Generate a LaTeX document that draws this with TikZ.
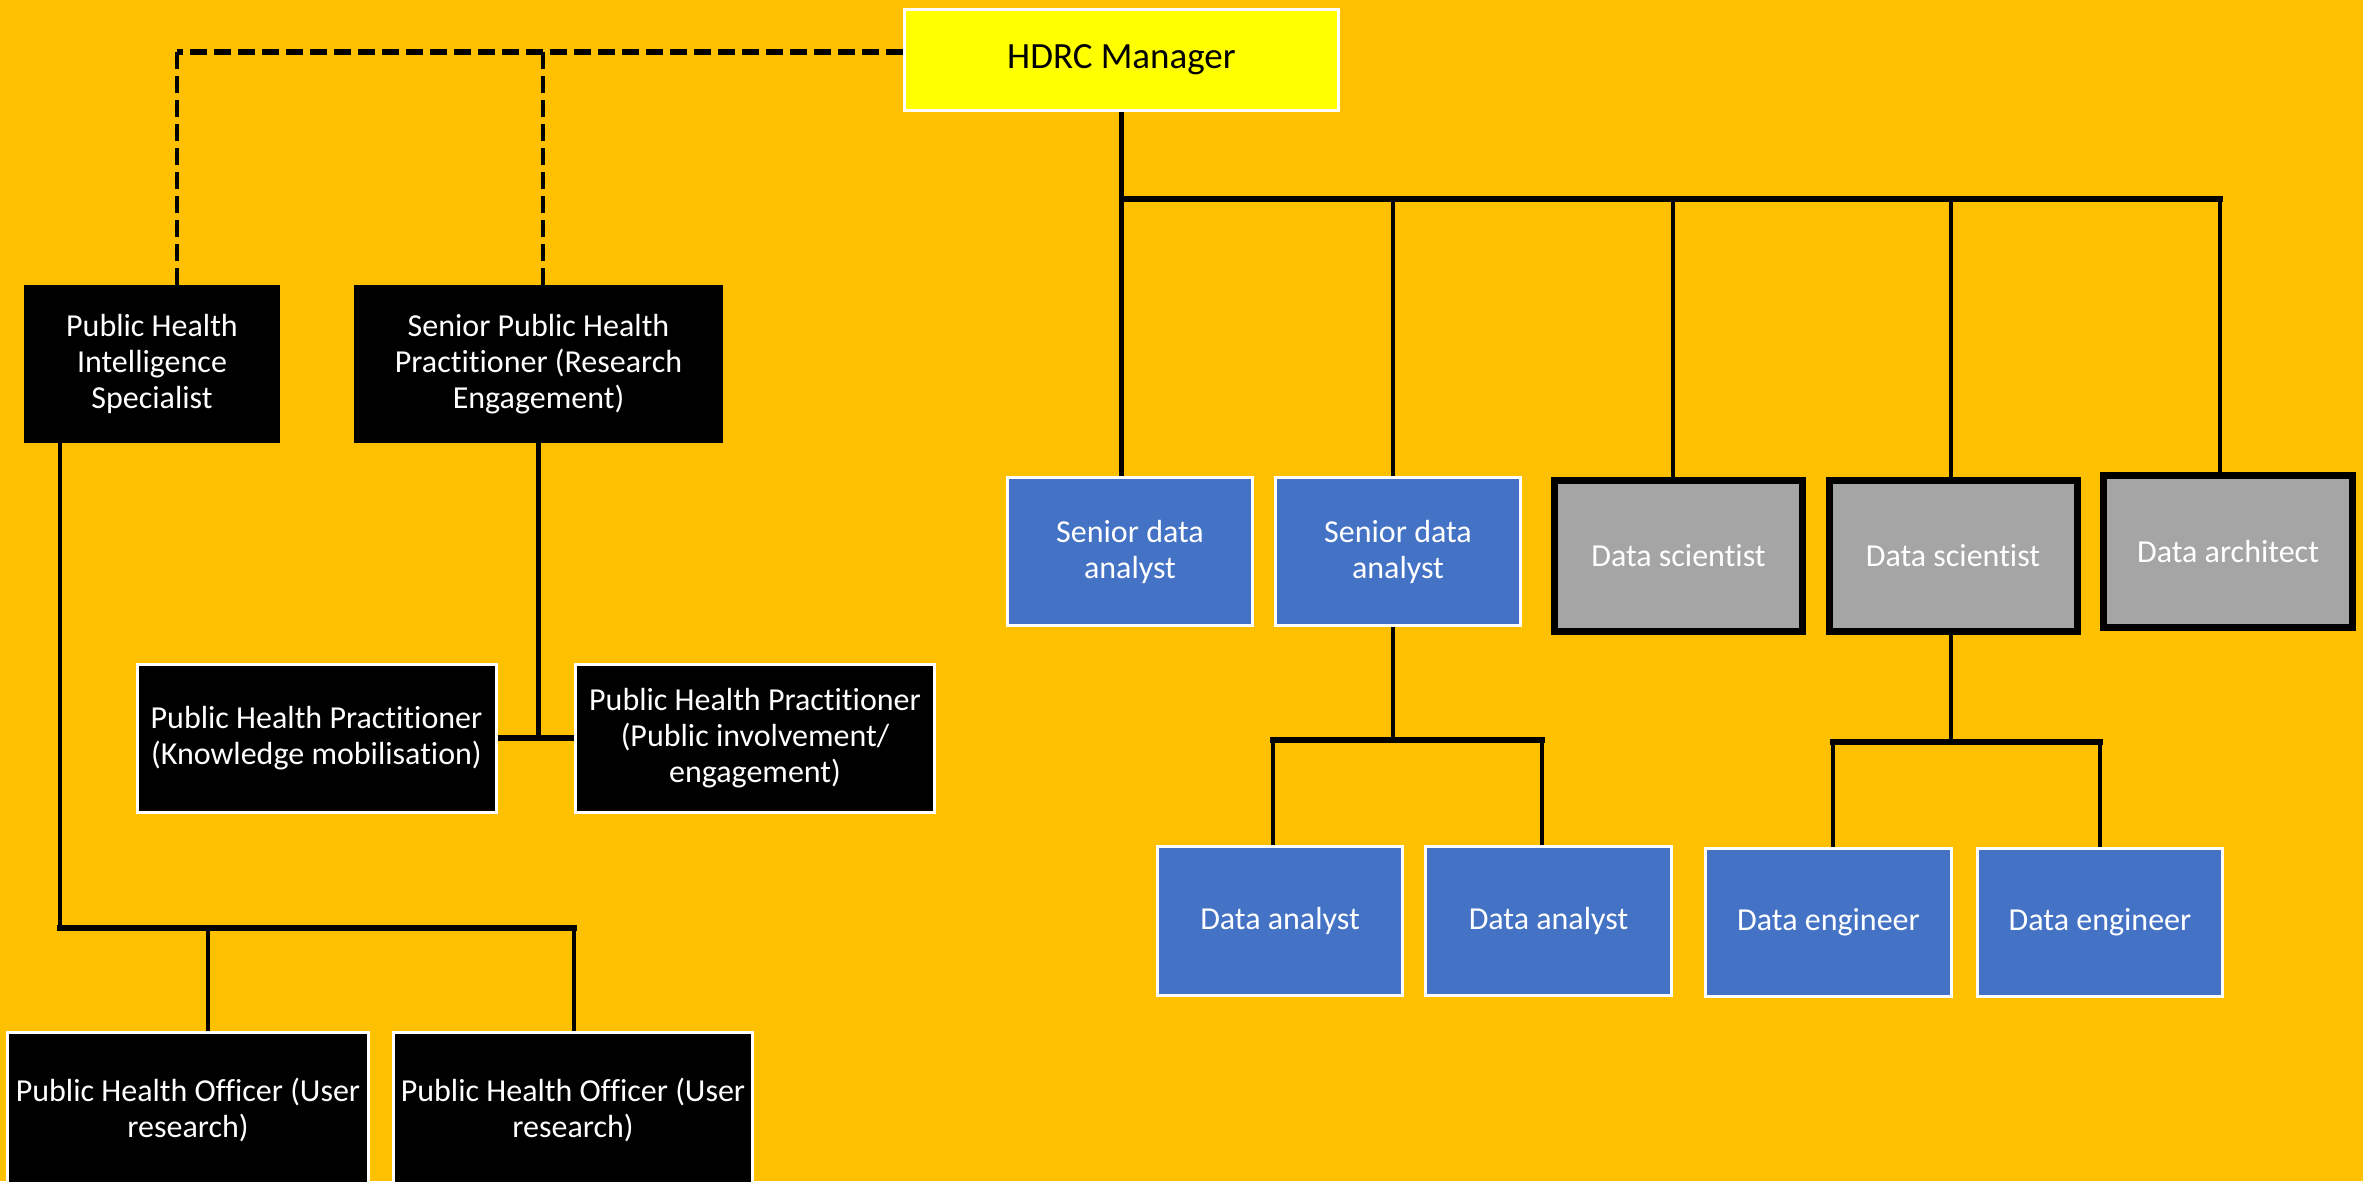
\documentclass[tikz,border=0pt]{standalone}
\usepackage{fontspec}
\setmainfont{Carlito}[Ligatures={NoCommon}]
\definecolor{bgc}{HTML}{FFC000}
\definecolor{bluec}{HTML}{4472C4}
\definecolor{grayc}{HTML}{A5A5A5}
\definecolor{yelc}{HTML}{FFFF00}
\pgfdeclarelayer{back}
\pgfdeclarelayer{lines}
\pgfsetlayers{back,lines,main}
\begin{document}
\begin{tikzpicture}[x=1pt,y=-1pt,
  box/.style={rectangle, inner sep=0pt, align=center, text=white,
    font=\fontsize{32}{36}\selectfont},
  blkbox/.style={box, fill=black},
  blkw/.style={box, fill=black, draw=white, line width=3pt},
  blubox/.style={box, fill=bluec, draw=white, line width=3pt},
  grybox/.style={box, fill=grayc, draw=black, line width=7pt},
  yelbox/.style={box, fill=yelc, draw=white, line width=3pt, text=black,
    font=\fontsize{37}{44}\selectfont},
  conn/.style={line width=4.5pt, line cap=rect},
  busconn/.style={line width=6pt, line cap=rect},
  dashconn/.style={line width=4.5pt, dash pattern=on 17pt off 7pt}
]
\useasboundingbox (0,0) rectangle (2363,1181);
\clip (0,0) rectangle (2363,1181);
\begin{pgfonlayer}{back}
\fill[bgc] (0,0) rectangle (2363,1181);
\end{pgfonlayer}

% nodes
\node[yelbox, minimum width=434pt, minimum height=101pt] (hdrc) at (1121.5,60) {HDRC Manager};
\node[blkbox, minimum width=256pt, minimum height=158pt] (phis) at (152,364) {Public Health\\Intelligence\\Specialist};
\node[blkbox, minimum width=369pt, minimum height=158pt] (sphp) at (538.5,364) {Senior Public Health\\Practitioner (Research\\Engagement)};
\node[blkw, minimum width=359pt, minimum height=148pt] (php1) at (316.5,738) {Public Health Practitioner\\(Knowledge mobilisation)};
\node[blkw, minimum width=359pt, minimum height=148pt] (php2) at (755,738) {Public Health Practitioner\\(Public involvement/\\engagement)};
\node[blkw, minimum width=361pt, minimum height=156pt] (pho1) at (188,1110.5) {Public Health Officer (User\\research)};
\node[blkw, minimum width=359pt, minimum height=156pt] (pho2) at (573,1110.5) {Public Health Officer (User\\research)};

\node[blubox, minimum width=245pt, minimum height=148pt] (sda1) at (1130,551.5) {Senior data\\analyst};
\node[blubox, minimum width=245pt, minimum height=148pt] (sda2) at (1398,551.5) {Senior data\\analyst};
\node[grybox, minimum width=248pt, minimum height=151pt] (ds1) at (1678.5,556) {Data scientist};
\node[grybox, minimum width=248pt, minimum height=151pt] (ds2) at (1953,556) {Data scientist};
\node[grybox, minimum width=249pt, minimum height=152pt] (darch) at (2228,551.5) {Data architect};

\node[blubox, minimum width=245pt, minimum height=149pt] (da1) at (1280,921) {Data analyst};
\node[blubox, minimum width=246pt, minimum height=149pt] (da2) at (1548.5,921) {Data analyst};
\node[blubox, minimum width=246pt, minimum height=148pt] (de1) at (1828.5,922.5) {Data engineer};
\node[blubox, minimum width=245pt, minimum height=148pt] (de2) at (2100,922.5) {Data engineer};

% coordinates
\coordinate (dL) at (177,52);
\coordinate (dM) at (543,52);
\coordinate (t2) at (1393,199);
\coordinate (t3) at (1673,199);
\coordinate (t4) at (1951,199);
\coordinate (t5) at (2220,199);
\coordinate (u0) at (1393,740);
\coordinate (u1) at (1273,740);
\coordinate (u2) at (1542,740);
\coordinate (v0) at (1951,742);
\coordinate (v1) at (1833,742);
\coordinate (v2) at (2100,742);
\coordinate (w0) at (60,928);
\coordinate (w1) at (208,928);
\coordinate (w2) at (574,928);

\begin{pgfonlayer}{lines}
% dashed links
\draw[dashconn, line width=6pt] (hdrc.west |- dL) -- (dL);
\draw[dashconn, line width=4pt] (dL) -- (dL |- phis.north);
\draw[dashconn, line width=4pt] (dM) -- (dM |- sphp.north);
% left tree
\draw[conn] (w0 |- phis.south) -- (w0);
\draw[busconn] (w0) -- (w2);
\draw[conn] (w1) -- (w1 |- pho1.north);
\draw[conn] (w2) -- (w2 |- pho2.north);
\draw[conn] (sphp.south) -- (sphp.south |- php1.east);
\draw[busconn] (php1.east) -- (php2.west);
% right tree
\draw[conn] (hdrc.south) -- (hdrc.south |- sda1.north);
\draw[busconn] (hdrc.south |- t5) -- (t5);
\draw[conn] (t2) -- (t2 |- sda2.north);
\draw[conn] (t3) -- (t3 |- ds1.north);
\draw[conn] (t4) -- (t4 |- ds2.north);
\draw[conn] (t5) -- (t5 |- darch.north);
\draw[conn] (u0 |- sda2.south) -- (u0);
\draw[busconn] (u1) -- (u2);
\draw[conn] (u1) -- (u1 |- da1.north);
\draw[conn] (u2) -- (u2 |- da2.north);
\draw[conn] (v0 |- ds2.south) -- (v0);
\draw[busconn] (v1) -- (v2);
\draw[conn] (v1) -- (v1 |- de1.north);
\draw[conn] (v2) -- (v2 |- de2.north);
\end{pgfonlayer}
\end{tikzpicture}
\end{document}
